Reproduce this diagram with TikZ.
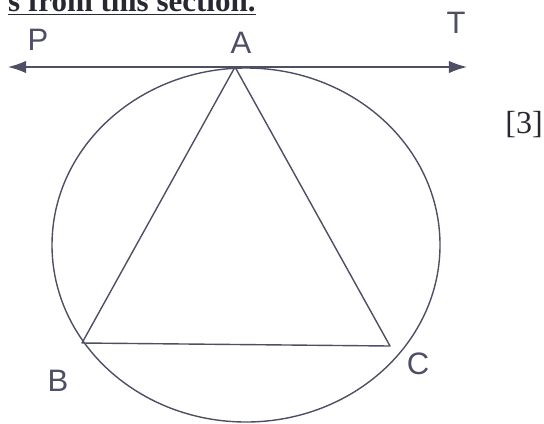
\documentclass[tikz,border=0pt]{standalone}
\usepackage{fontspec}
\setmainfont{Liberation Serif}
\newfontfamily\handfont{Liberation Sans}
\usetikzlibrary{arrows.meta}
\definecolor{PenInk}{RGB}{78,78,100}
\definecolor{PrintInk}{RGB}{40,40,50}
\tikzset{
  penline/.style ={draw=PenInk, line width=.7pt},
  tanline/.style ={{Latex[length=3.2mm,width=2.2mm]}-{Latex[length=3.2mm,width=2.2mm]}, draw=PenInk, line width=.7pt},
  ptlabel/.style ={text=PenInk, font=\handfont\fontsize{15.5}{15.5}\selectfont, inner sep=0pt},
  printtxt/.style={text=PrintInk, inner sep=0pt},
}

\begin{document}
\begin{tikzpicture}[x=0.5pt,y=-0.5pt]
  \useasboundingbox (0,0) rectangle (544,423);
  % points on the circle and ends of the tangent
  \coordinate (A) at (235,67);
  \coordinate (B) at (82,343);
  \coordinate (C) at (390,346);
  \coordinate (Pend) at (8,67);
  \coordinate (Tend) at (467,67);
  \draw[penline] (246,245) ellipse [x radius=194, y radius=177];
  \draw[tanline] (Pend) -- (Tend);
  \draw[penline, line join=round] (A) -- (B) -- (C) -- cycle;
  % labels
  \node[ptlabel] (lP) at (38,40) {P};
  \node[ptlabel] (lA) at (241,43) {A};
  \node[ptlabel] (lT) at (456,23) {T};
  \node[ptlabel] (lB) at (58,381) {B};
  \node[ptlabel] (lC) at (418,364) {C};
  \node[printtxt, font=\fontsize{16}{16}\selectfont] (marks) at (524,125) {[3]};
  \node[printtxt, anchor=base east, font=\bfseries\fontsize{15.5}{15.5}\selectfont] (head) at (256,11) {\underline{s from this section.}};
\end{tikzpicture}
\end{document}
